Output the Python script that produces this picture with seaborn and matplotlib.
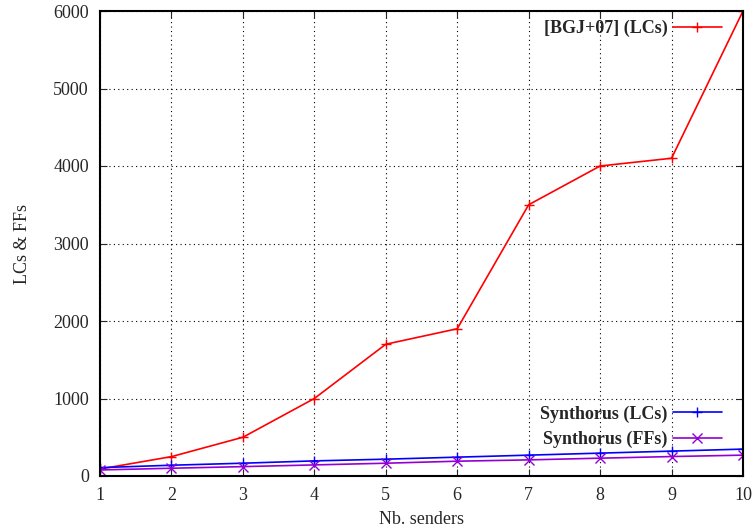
import pandas as pd
import matplotlib
matplotlib.use("Agg")
import matplotlib.pyplot as plt
import seaborn as sns
from matplotlib.lines import Line2D

# values
senders = [1, 2, 3, 4, 5, 6, 7, 8, 9, 10]
bgj_lcs = [90, 250, 500, 1000, 1700, 1900, 3500, 4000, 4100, 6000]
synth_lcs = [108, 139, 165, 195, 217, 243, 269, 295, 321, 347]
synth_ffs = [78, 100, 121, 143, 165, 191, 208, 230, 251, 269]

series_names = ["[BGJ+07] (LCs)", "Synthorus (LCs)", "Synthorus (FFs)"]
colors = ["#ff0000", "#0000ff", "#9400d3"]
markers = ["+", "+", "x"]

df = pd.DataFrame({"senders": senders,
                   series_names[0]: bgj_lcs,
                   series_names[1]: synth_lcs,
                   series_names[2]: synth_ffs})
long_df = df.melt(id_vars="senders", var_name="series", value_name="count")

sns.set_style("ticks")
plt.rcParams['font.family'] = ['Liberation Serif', 'DejaVu Serif']

fig = plt.figure(figsize=(7.53, 5.31), dpi=100)
ax = fig.add_axes([100 / 753, 55 / 531, 643 / 753, 465 / 531])

sns.lineplot(data=long_df, x="senders", y="count", hue="series", style="series",
             hue_order=series_names, palette=colors, markers=markers, dashes=False,
             linewidth=1.2, markersize=7, markeredgewidth=1.0, legend=False, ax=ax)
# seaborn paints marker edges white; give them the line colour like gnuplot
for ln in ax.lines:
    ln.set_markeredgecolor(ln.get_color())

ax.set_xlim(1, 10)
ax.set_ylim(0, 6000)
ax.set_xticks(senders)
ax.set_yticks(range(0, 6001, 1000))
ax.grid(True, linestyle=(0, (1, 3)), color="black", linewidth=0.8)
ax.tick_params(direction="in", top=True, right=True, length=5, labelsize=13, pad=8)
for sp in ax.spines.values():
    sp.set_linewidth(1.5)
    sp.set_color("black")
ax.set_xlabel("Nb. senders", fontsize=13, labelpad=5)
ax.set_ylabel("LCs & FFs", fontsize=13, labelpad=16)

# legends like gnuplot keys: text first, then sample line
def handle(i):
    return Line2D([], [], color=colors[i], marker=markers[i], linewidth=1.2,
                  markersize=7, markeredgewidth=1.0)

key_font = {"weight": "bold", "size": 13}
leg_top = ax.legend([handle(0)], [series_names[0]], loc="upper right",
                    bbox_to_anchor=(0.967, 0.981), frameon=False, markerfirst=False,
                    handlelength=2.7, handletextpad=0.3, borderaxespad=0, borderpad=0,
                    prop=key_font)
ax.add_artist(leg_top)
ax.legend([handle(1), handle(2)], series_names[1:], loc="lower right",
          bbox_to_anchor=(0.967, 0.06), frameon=False, markerfirst=False,
          handlelength=2.7, handletextpad=0.3, borderaxespad=0, borderpad=0,
          labelspacing=0.45, prop=key_font)

fig.savefig("out.png", dpi=100)
